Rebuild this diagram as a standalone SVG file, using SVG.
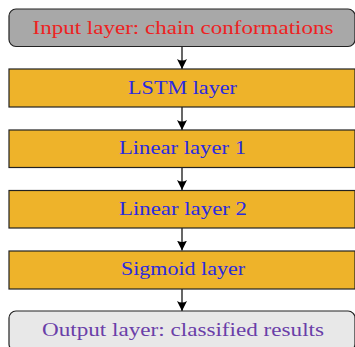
<svg xmlns="http://www.w3.org/2000/svg" width="355" height="347" viewBox="0 0 355 347">
<style>
.box{stroke:#222;stroke-width:1.2}
.layer{fill:#eeb32a}
.t{font-family:"Liberation Serif",serif;font-size:18px;text-anchor:middle}
.blue{fill:#2a2ae0}
.edge{stroke:#000;stroke-width:1.2;fill:none;marker-end:url(#ah)}
</style>
<defs>
<marker id="ah" viewBox="0 0 10 10" refX="10" refY="5" markerWidth="10" markerHeight="10" markerUnits="userSpaceOnUse" orient="auto">
<path d="M0,0 Q3,5 0,10 L10,5 Z" fill="#000"/>
</marker>
</defs>
<g id="connectors">
<line class="edge" x1="182" y1="46.5" x2="182" y2="69"/>
<line class="edge" x1="182" y1="107" x2="182" y2="130"/>
<line class="edge" x1="182" y1="167.5" x2="182" y2="190"/>
<line class="edge" x1="182" y1="228" x2="182" y2="250.5"/>
<line class="edge" x1="182" y1="289" x2="182" y2="311"/>
</g>
<g id="input">
<rect class="box" x="9" y="9" width="346" height="37.5" rx="7" fill="#a8a8a8"/>
<text class="t" x="183" y="33.5" fill="#ee2222" textLength="301" lengthAdjust="spacingAndGlyphs">Input layer: chain conformations</text>
</g>
<g id="lstm">
<rect class="box layer" x="9" y="69" width="346" height="38"/>
<text class="t blue" x="182.5" y="93.5" textLength="109" lengthAdjust="spacingAndGlyphs">LSTM layer</text>
</g>
<g id="linear1">
<rect class="box layer" x="9" y="130" width="346" height="37.5"/>
<text class="t blue" x="182.5" y="154" textLength="127" lengthAdjust="spacingAndGlyphs">Linear layer 1</text>
</g>
<g id="linear2">
<rect class="box layer" x="9" y="190.5" width="346" height="37.5"/>
<text class="t blue" x="183" y="214.5" textLength="128" lengthAdjust="spacingAndGlyphs">Linear layer 2</text>
</g>
<g id="sigmoid">
<rect class="box layer" x="9" y="251" width="346" height="38"/>
<text class="t blue" x="183" y="275" textLength="124" lengthAdjust="spacingAndGlyphs">Sigmoid layer</text>
</g>
<g id="output">
<rect class="box" x="9" y="311" width="346" height="40" rx="7" fill="#e8e8e8"/>
<text class="t" x="183" y="336" fill="#6a3fa8" textLength="282" lengthAdjust="spacingAndGlyphs">Output layer: classified results</text>
</g>
</svg>
